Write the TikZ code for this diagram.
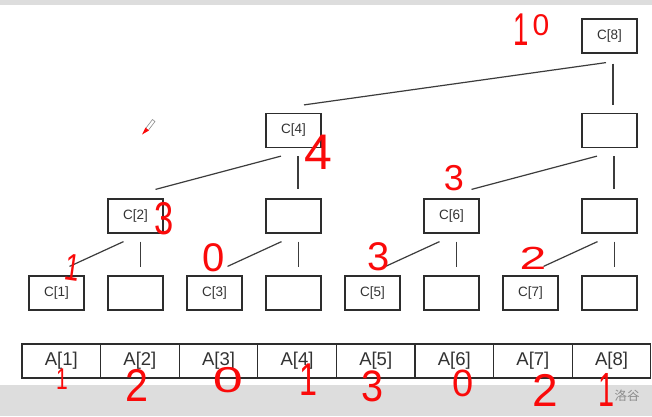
\documentclass[tikz,border=0pt]{standalone}
\usepackage{fontspec}
\setmainfont{Liberation Sans}
\newfontfamily\cjk{Noto Sans CJK SC}
\usetikzlibrary{calc}
\definecolor{bar}{RGB}{221,221,221}
\definecolor{boxc}{RGB}{45,45,45}
\definecolor{txt}{RGB}{50,50,50}
\definecolor{linec}{RGB}{60,60,60}
\definecolor{hand}{RGB}{250,10,10}
\definecolor{wmgray}{RGB}{140,140,140}
\tikzset{
  cbox/.style={draw=boxc, line width=1.2pt, minimum width=55pt, minimum height=34pt, inner sep=0pt, text=txt, font=\fontsize{13.5}{16}\selectfont},
  acell/.style={draw=boxc, line width=1.1pt, minimum width=78.6pt, minimum height=34pt, inner sep=0pt, text=txt, font=\fontsize{18.5}{22}\selectfont},
  conn/.style={draw=linec, line width=1.2pt},
  num/.style={text=hand, inner sep=0pt},
}
\newcommand{\hs}[1]{\fontsize{#1}{#1}\selectfont}
\begin{document}
\begin{tikzpicture}[x=1pt,y=-1pt]
\useasboundingbox (0,0) rectangle (652,416);
\fill[white] (0,0) rectangle (652,416);
\fill[bar] (0,0) rectangle (652,4.5);
\fill[bar] (0,385) rectangle (652,416);
% level 3
\node[cbox] (t8) at (609.5,36) {C[8]};
% level 2
\node[cbox] (t4) at (293.5,130.5) {C[4]};
\node[cbox] (t8b) at (609.5,130.5) {};
% level 1
\node[cbox] (t2) at (135.5,216) {C[2]};
\node[cbox] (t4b) at (293.5,216) {};
\node[cbox] (t6) at (451.5,216) {C[6]};
\node[cbox] (t8c) at (609.5,216) {};
% level 0
\node[cbox] (t1) at (56.5,293) {C[1]};
\node[cbox] (t2b) at (135.5,293) {};
\node[cbox] (t3) at (214.5,293) {C[3]};
\node[cbox] (t4c) at (293.5,293) {};
\node[cbox] (t5) at (372.5,293) {C[5]};
\node[cbox] (t6b) at (451.5,293) {};
\node[cbox] (t7) at (530.5,293) {C[7]};
\node[cbox] (t8d) at (609.5,293) {};
% array
\foreach \i in {1,...,8} {
  \node[acell] (a\i) at ({61.3+78.6*(\i-1)},361) {A[\i]};
}
% connectors level 3 -> 2
\draw[conn] ($(t8.south)+(-3.5,9)$) -- ($(t4.north)+(10.5,-8)$);
\draw[conn] ($(t8.south)+(3.5,10)$) -- ($(t8b.north)+(3.5,-8)$);
% level 2 -> 1
\foreach \p/\l/\r in {t4/t2/t4b, t8b/t6/t8c} {
  \draw[conn] ($(\p.south)+(-12.5,8)$) -- ($(\l.north)+(20,-9)$);
  \draw[conn] ($(\p.south)+(4.5,8)$) -- ($(\r.north)+(4.5,-9)$);
}
% level 1 -> 0
\foreach \p/\l/\r in {t2/t1/t2b, t4b/t3/t4c, t6/t5/t6b, t8c/t7/t8d} {
  \draw[conn] ($(\p.south)+(-12,8)$) -- ($(\l.north)+(13,-9)$);
  \draw[conn] ($(\p.south)+(5,8)$) -- ($(\r.north)+(5,-8)$);
}
% pen cursor
\draw[wmgray, line width=0.6pt] (146,128) -- (152.5,119.5) -- (155,121.5) -- (148.5,130);
\fill[hand] (142,134.5) -- (145.5,127.5) -- (149,130.5) -- cycle;
% handwritten annotations
\node[num, font=\hs{46}, xscale=0.6] (h10a) at (521,30) {1};
\node[num, font=\hs{30}] (h10b) at (541,25) {0};
\node[num, font=\hs{50}] (h4) at (318,152) {4};
\node[num, font=\hs{36}] (h3a) at (454,178) {3};
\node[num, font=\hs{46}, xscale=0.75] (h3b) at (164,219) {3};
\node[num, font=\hs{38}, rotate=-8, xscale=0.7] (h1a) at (73,268) {1};
\node[num, font=\hs{40}] (h0a) at (214,258) {0};
\node[num, font=\hs{40}] (h3c) at (379,257) {3};
\node[num, font=\hs{32}, xscale=1.5] (h2a) at (533,258) {2};
\node[num, font=\hs{30}, xscale=0.7] (b1) at (62,379) {1};
\node[num, font=\hs{46}, xscale=0.9] (b2) at (137,385) {2};
\node[num, font=\hs{36}, xscale=1.5] (b3) at (228,380) {0};
\node[num, font=\hs{46}, xscale=0.7] (b4) at (308,380) {1};
\node[num, font=\hs{44}, xscale=0.9] (b5) at (373,386) {3};
\node[num, font=\hs{38}] (b6) at (463,383) {0};
\node[num, font=\hs{46}] (b7) at (545,390) {2};
\node[num, font=\hs{48}, xscale=0.6] (b8) at (606,390) {1};
% watermark
\node[text=wmgray, inner sep=0pt, font=\cjk\fontsize{12.5}{14}\selectfont] (wm) at (627,396) {洛谷};
\end{tikzpicture}
\end{document}
